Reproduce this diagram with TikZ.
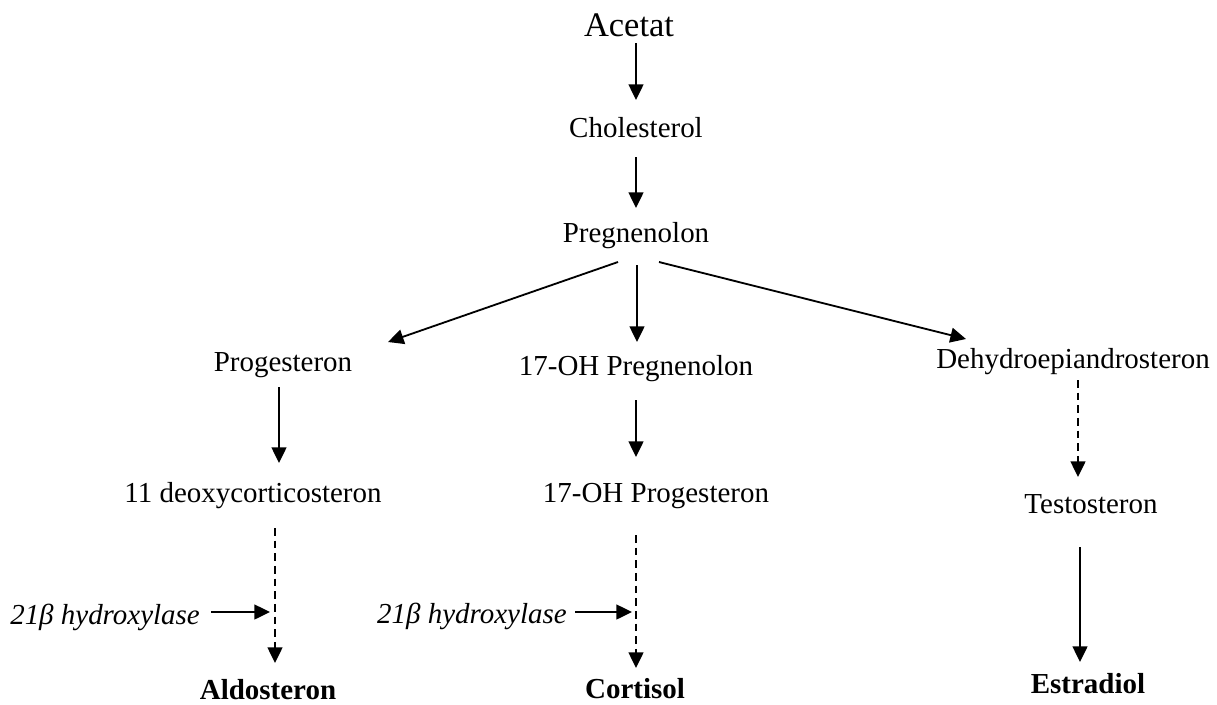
\documentclass[tikz,border=0pt]{standalone}
\usepackage{fontspec}
\setmainfont{Liberation Serif}
\usetikzlibrary{arrows.meta,calc}

\begin{document}
\begin{tikzpicture}[x=0.025cm,y=-0.025cm,
	every node/.style={inner sep=0pt,anchor=base,font=\fontsize{20.6}{24}\selectfont},
	product/.style={font=\fontsize{20.6}{24}\selectfont\bfseries},
	enzyme/.style={font=\fontsize{20.6}{24}\selectfont\itshape},
	arr/.style={line width=1.3pt,-{Triangle[length=0.39cm,width=0.37cm]}},
	dasharr/.style={arr,dash pattern=on 5.5pt off 3.5pt}]
	\useasboundingbox (0,0) rectangle (1217,704);
	\node[font=\fontsize{24.5}{28}\selectfont] (acetat) at (629,36) {Acetat};
	\node (chol) at (636,137) {Cholesterol};
	\node (preg) at (636,242) {Pregnenolon};
	\node (prog) at (283,371) {Progesteron};
	\node (ohpreg) at (636,375) {17-OH Pregnenolon};
	\node (dhea) at (1073,368) {Dehydroepiandrosteron};
	\node (doc) at (253,502) {11 deoxycorticosteron};
	\node (ohprog) at (656,502) {17-OH Progesteron};
	\node (testo) at (1091,513) {Testosteron};
	\node[product] (aldo) at (268,699) {Aldosteron};
	\node[product] (cort) at (635,698) {Cortisol};
	\node[product] (estr) at (1088,693) {Estradiol};
	\node[enzyme,anchor=base west] (enz1) at (10,624) {21β hydroxylase};
	\node[enzyme,anchor=base east] (enz2) at (567,623) {21β hydroxylase};
	\coordinate (hit1) at (270,612);
	\coordinate (hit2) at (632,612);
	% main chain
	\draw[arr] ($(acetat.base)+(7,7)$) -- ($(chol.base)+(0,-37)$);
	\draw[arr] ($(chol.base)+(0,20)$) -- ($(preg.base)+(0,-34)$);
	% branches
	\draw[arr] ($(preg.base)+(-18,20)$) -- ($(prog.base)+(105,-29)$);
	\draw[arr] ($(preg.base)+(1,23)$) -- ($(ohpreg.base)+(1,-33)$);
	\draw[arr] ($(preg.base)+(23,20)$) -- ($(dhea.base)+(-107,-29)$);
	\draw[arr] ($(prog.base)+(-4,16)$) -- ($(doc.base)+(26,-39)$);
	\draw[arr] ($(ohpreg.base)+(0,25)$) -- ($(ohprog.base)+(-20,-45)$);
	\draw[dasharr] ($(dhea.base)+(5,12)$) -- ($(testo.base)+(-13,-36)$);
	\draw[arr] ($(testo.base)+(-11,34)$) -- ($(estr.base)+(-8,-31)$);
	\draw[dasharr] ($(doc.base)+(22,26)$) -- ($(aldo.base)+(7,-36)$);
	\draw[dasharr] ($(ohprog.base)+(-20,33)$) -- ($(cort.base)+(1,-30)$);
	% enzymes
	\draw[arr] ($(enz1.base east)+(11,-12)$) -- (hit1);
	\draw[arr] ($(enz2.base east)+(8,-11)$) -- (hit2);
\end{tikzpicture}
\end{document}
